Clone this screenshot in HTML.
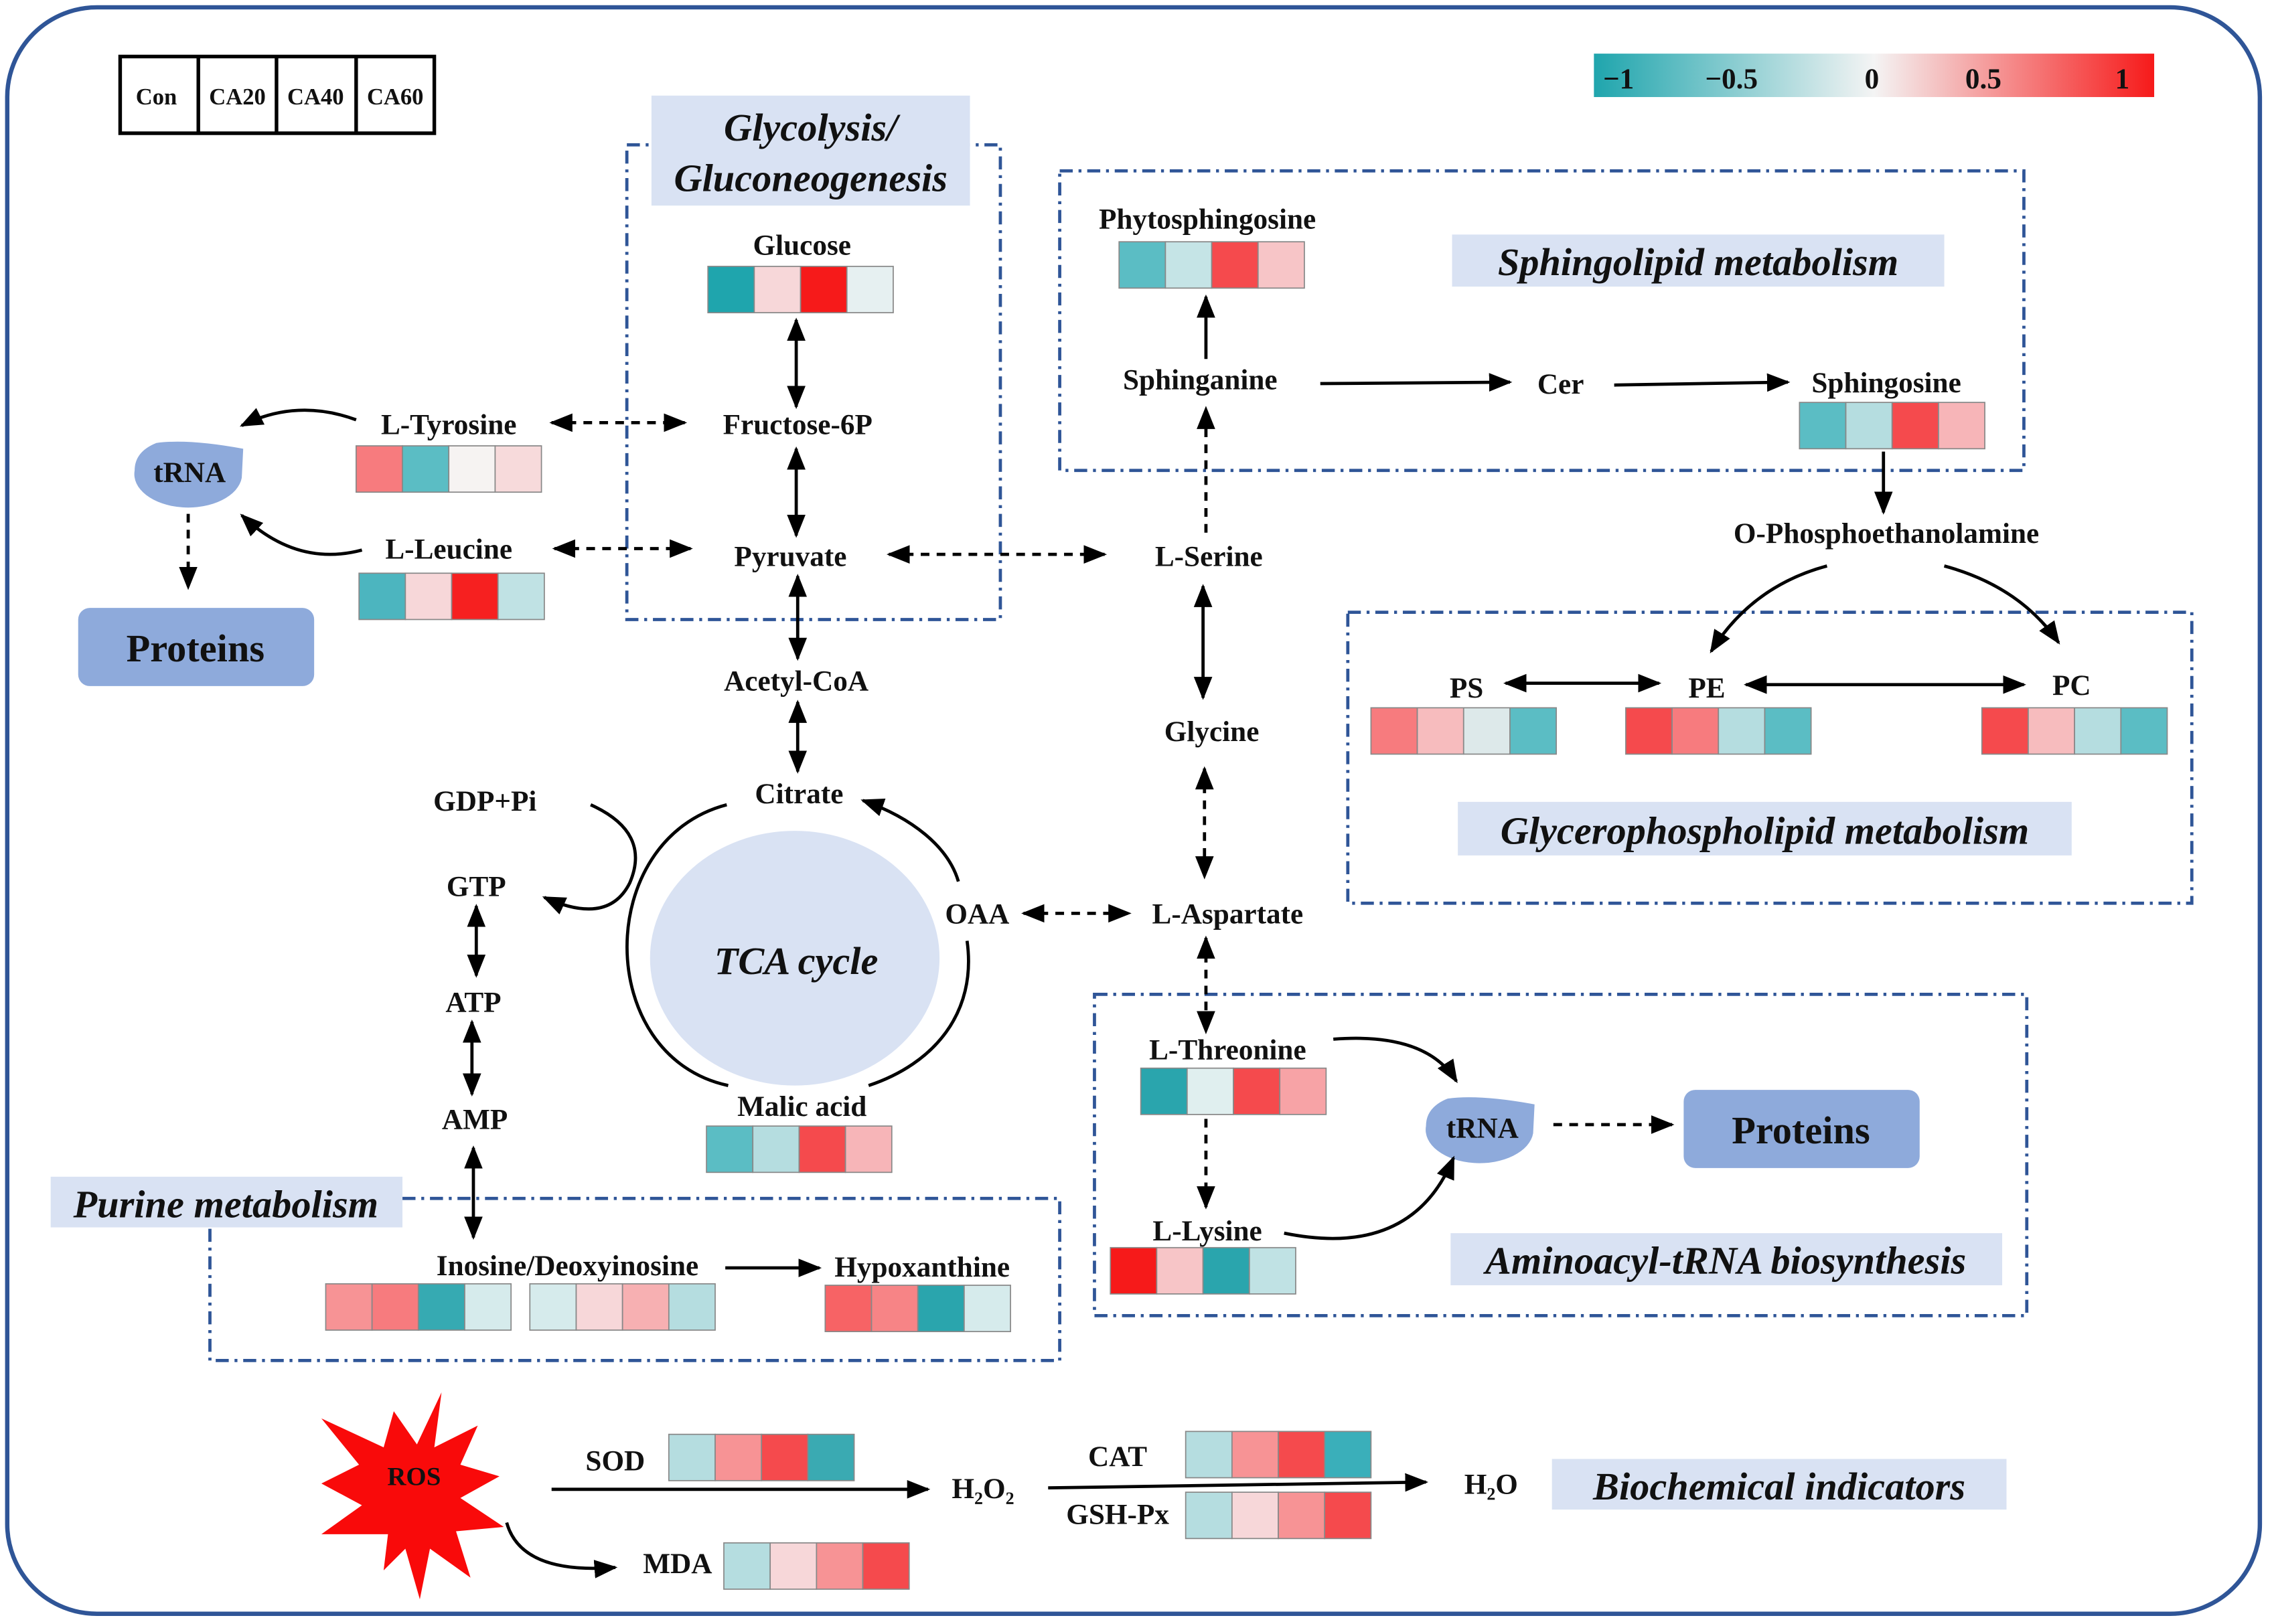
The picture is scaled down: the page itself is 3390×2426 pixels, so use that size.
<!DOCTYPE html>
<html><head><meta charset="utf-8"><style>
html,body{margin:0;padding:0;background:#fff;}
svg{display:block;}
text{font-family:"Liberation Serif",serif;font-weight:bold;fill:#111;}
.t{font-size:20px;text-anchor:middle;}
.it{font-style:italic;font-size:27px;text-anchor:middle;}
.box{fill:none;stroke:#2f5597;stroke-width:2.2;stroke-dasharray:9 4 2 4;}
.lab{fill:#d9e2f3;}
.ln{stroke:#000;stroke-width:2.2;fill:none;}
.d{stroke-dasharray:6 5;}
</style></head><body>
<svg width="3390" height="2426" viewBox="0 0 1568 1122" xmlns="http://www.w3.org/2000/svg">
<defs>
<marker id="b" viewBox="0 0 10 10" refX="9" refY="5" markerWidth="16" markerHeight="16" orient="auto-start-reverse" markerUnits="userSpaceOnUse"><path d="M0,1 L10,5 L0,9 z" fill="#000"/></marker>
<linearGradient id="g" x1="0" x2="1"><stop offset="0" stop-color="#1fa5ad"/><stop offset="0.5" stop-color="#f4f4f4"/><stop offset="1" stop-color="#f61a1a"/></linearGradient>
</defs>
<rect x="5" y="5" width="1556" height="1110" rx="62" fill="#fff" stroke="#2f5597" stroke-width="3"/>

<g stroke="#000" stroke-width="2.5" fill="#fff"><rect x="83" y="39" width="217" height="53"/><line x1="137" y1="39" x2="137" y2="92"/><line x1="191" y1="39" x2="191" y2="92"/><line x1="246" y1="39" x2="246" y2="92"/></g>
<g><text x="108" y="72" text-anchor="middle" style="font-size:16px">Con</text><text x="164" y="72" text-anchor="middle" style="font-size:16px">CA20</text><text x="218" y="72" text-anchor="middle" style="font-size:16px">CA40</text><text x="273" y="72" text-anchor="middle" style="font-size:16px">CA60</text></g>
<rect x="1101" y="37" width="387" height="30" fill="url(#g)"/>
<g><text class="t" x="1118" y="61">−1</text><text class="t" x="1196" y="61">−0.5</text><text class="t" x="1293" y="61">0</text><text class="t" x="1370" y="61">0.5</text><text class="t" x="1466" y="61">1</text></g>

<rect class="box" x="433" y="100" width="258" height="328"/>
<rect class="box" x="732" y="118" width="666" height="207"/>
<rect class="box" x="931" y="423" width="583" height="201"/>
<rect class="box" x="145" y="828" width="587" height="112"/>
<rect class="box" x="756" y="687" width="644" height="222"/>

<rect class="lab" x="450" y="66" width="220" height="76"/>
<text class="it" x="560" y="97">Glycolysis/</text><text class="it" x="560" y="132">Gluconeogenesis</text>
<rect class="lab" x="1003" y="162" width="340" height="36"/><text class="it" x="1173" y="190">Sphingolipid metabolism</text>
<rect class="lab" x="1007" y="554" width="424" height="37"/><text class="it" x="1219" y="583">Glycerophospholipid metabolism</text>
<rect class="lab" x="35" y="813" width="243" height="35"/><text class="it" x="156" y="841">Purine metabolism</text>
<rect class="lab" x="1002" y="852" width="381" height="36"/><text class="it" x="1192" y="880">Aminoacyl-tRNA biosynthesis</text>
<rect class="lab" x="1072" y="1008" width="314" height="35"/><text class="it" x="1229" y="1036">Biochemical indicators</text>

<rect x="54" y="420" width="163" height="54" rx="8" fill="#8eaadb"/><text x="135" y="457" text-anchor="middle" style="font-size:27px">Proteins</text>
<rect x="1163" y="753" width="163" height="54" rx="8" fill="#8eaadb"/><text x="1244" y="790" text-anchor="middle" style="font-size:27px">Proteins</text>
<path d="M93,325 A37,23 0 1 0 167,330 L168,310 Q130,303 108,306 Q93,312 93,325z" fill="#8eaadb"/>
<text class="t" x="131" y="333">tRNA</text>
<path d="M985,778 A37,23 0 1 0 1059,783 L1060,763 Q1022,756 1000,759 Q985,765 985,778z" fill="#8eaadb"/>
<text class="t" x="1024" y="786">tRNA</text>

<ellipse cx="549" cy="662" rx="100" ry="88" fill="#d9e2f3"/>
<text class="it" x="550" y="673">TCA cycle</text>
<path class="ln" d="M502,556 C410,580 410,730 503,750" stroke-width="3"/>
<path class="ln" d="M662,609 C655,585 630,565 596,553" stroke-width="3" marker-end="url(#b)"/>
<path class="ln" d="M668,650 C675,700 645,735 600,750" stroke-width="3"/>
<path class="ln" d="M408,556 Q450,575 435,610 Q420,640 376,620" marker-end="url(#b)"/>

<g>
<text class="t" x="554" y="176">Glucose</text>
<text class="t" x="551" y="300">Fructose-6P</text>
<text class="t" x="546" y="391">Pyruvate</text>
<text class="t" x="550" y="477">Acetyl-CoA</text>
<text class="t" x="552" y="555">Citrate</text>
<text class="t" x="335" y="560">GDP+Pi</text>
<text class="t" x="329" y="619">GTP</text>
<text class="t" x="327" y="699">ATP</text>
<text class="t" x="328" y="780">AMP</text>
<text class="t" x="675" y="638">OAA</text>
<text class="t" x="554" y="771">Malic acid</text>
<text class="t" x="310" y="300">L-Tyrosine</text>
<text class="t" x="310" y="386">L-Leucine</text>
<text class="t" x="834" y="158">Phytosphingosine</text>
<text class="t" x="829" y="269">Sphinganine</text>
<text class="t" x="1078" y="272">Cer</text>
<text class="t" x="1303" y="271">Sphingosine</text>
<text class="t" x="1303" y="375">O-Phosphoethanolamine</text>
<text class="t" x="835" y="391">L-Serine</text>
<text class="t" x="837" y="512">Glycine</text>
<text class="t" x="848" y="638">L-Aspartate</text>
<text class="t" x="1013" y="482">PS</text>
<text class="t" x="1179" y="482">PE</text>
<text class="t" x="1431" y="480">PC</text>
<text class="t" x="848" y="732">L-Threonine</text>
<text class="t" x="834" y="857">L-Lysine</text>
<text class="t" x="392" y="881">Inosine/Deoxyinosine</text>
<text class="t" x="637" y="882">Hypoxanthine</text>
<text class="t" x="425" y="1016">SOD</text>
<text class="t" x="679" y="1035">H₂O₂</text>
<text class="t" x="772" y="1013">CAT</text>
<text class="t" x="772" y="1053">GSH-Px</text>
<text class="t" x="1030" y="1032">H₂O</text>
<text class="t" x="468" y="1087">MDA</text>
</g>

<polygon points="305,962 300,1000 330,985 318,1012 345,1020 318,1035 348,1055 315,1058 325,1090 297,1070 290,1105 280,1070 265,1085 268,1060 222,1060 250,1040 222,1025 248,1012 222,980 265,1000 272,975 288,998" fill="#f90a0a"/>
<text x="286" y="1026" text-anchor="middle" style="font-size:18px">ROS</text>

<g stroke="#888" stroke-width="0.8">
<g transform="translate(489,184)"><rect width="32" height="32" fill="#1fa5ad"/><rect x="32" width="32" height="32" fill="#f7d7d9"/><rect x="64" width="32" height="32" fill="#f61a1a"/><rect x="96" width="32" height="32" fill="#e6f0f1"/></g>
<g transform="translate(246,308)"><rect width="32" height="32" fill="#f77b7e"/><rect x="32" width="32" height="32" fill="#5bbdc4"/><rect x="64" width="32" height="32" fill="#f6f3f2"/><rect x="96" width="32" height="32" fill="#f7dadb"/></g>
<g transform="translate(248,396)"><rect width="32" height="32" fill="#4cb5bf"/><rect x="32" width="32" height="32" fill="#f7d7d9"/><rect x="64" width="32" height="32" fill="#f62020"/><rect x="96" width="32" height="32" fill="#c0e2e4"/></g>
<g transform="translate(773,167)"><rect width="32" height="32" fill="#5bbdc4"/><rect x="32" width="32" height="32" fill="#c5e4e6"/><rect x="64" width="32" height="32" fill="#f54a4d"/><rect x="96" width="32" height="32" fill="#f7c5c7"/></g>
<g transform="translate(1243,278)"><rect width="32" height="32" fill="#5bbdc4"/><rect x="32" width="32" height="32" fill="#b5dde0"/><rect x="64" width="32" height="32" fill="#f54a4d"/><rect x="96" width="32" height="32" fill="#f7b5b8"/></g>
<g transform="translate(947,489)"><rect width="32" height="32" fill="#f77b7e"/><rect x="32" width="32" height="32" fill="#f7bcbe"/><rect x="64" width="32" height="32" fill="#dde9ea"/><rect x="96" width="32" height="32" fill="#5bbdc4"/></g>
<g transform="translate(1123,489)"><rect width="32" height="32" fill="#f54a4d"/><rect x="32" width="32" height="32" fill="#f77b7e"/><rect x="64" width="32" height="32" fill="#b5dde0"/><rect x="96" width="32" height="32" fill="#5bbdc4"/></g>
<g transform="translate(1369,489)"><rect width="32" height="32" fill="#f54a4d"/><rect x="32" width="32" height="32" fill="#f7bcbe"/><rect x="64" width="32" height="32" fill="#b5dde0"/><rect x="96" width="32" height="32" fill="#5bbdc4"/></g>
<g transform="translate(488,778)"><rect width="32" height="32" fill="#5bbdc4"/><rect x="32" width="32" height="32" fill="#b5dde0"/><rect x="64" width="32" height="32" fill="#f54a4d"/><rect x="96" width="32" height="32" fill="#f7b5b8"/></g>
<g transform="translate(788,738)"><rect width="32" height="32" fill="#2aa5ad"/><rect x="32" width="32" height="32" fill="#e0efef"/><rect x="64" width="32" height="32" fill="#f54a4d"/><rect x="96" width="32" height="32" fill="#f7a3a6"/></g>
<g transform="translate(767,862)"><rect width="32" height="32" fill="#f61a1a"/><rect x="32" width="32" height="32" fill="#f7c5c7"/><rect x="64" width="32" height="32" fill="#2aa5ad"/><rect x="96" width="32" height="32" fill="#c0e2e4"/></g>
<g transform="translate(225,887)"><rect width="32" height="32" fill="#f79395"/><rect x="32" width="32" height="32" fill="#f77b7e"/><rect x="64" width="32" height="32" fill="#36aab2"/><rect x="96" width="32" height="32" fill="#d6ebec"/></g>
<g transform="translate(366,887)"><rect width="32" height="32" fill="#d6ebec"/><rect x="32" width="32" height="32" fill="#f7d7d9"/><rect x="64" width="32" height="32" fill="#f7b0b2"/><rect x="96" width="32" height="32" fill="#b5dde0"/></g>
<g transform="translate(570,888)"><rect width="32" height="32" fill="#f76365"/><rect x="32" width="32" height="32" fill="#f78486"/><rect x="64" width="32" height="32" fill="#2aa5ad"/><rect x="96" width="32" height="32" fill="#d6ebec"/></g>
<g transform="translate(462,991)"><rect width="32" height="32" fill="#b5dde0"/><rect x="32" width="32" height="32" fill="#f79395"/><rect x="64" width="32" height="32" fill="#f54a4d"/><rect x="96" width="32" height="32" fill="#3aaab2"/></g>
<g transform="translate(819,989)"><rect width="32" height="32" fill="#b5dde0"/><rect x="32" width="32" height="32" fill="#f79395"/><rect x="64" width="32" height="32" fill="#f54a4d"/><rect x="96" width="32" height="32" fill="#3aafba"/></g>
<g transform="translate(819,1031)"><rect width="32" height="32" fill="#b5dde0"/><rect x="32" width="32" height="32" fill="#f7d7d9"/><rect x="64" width="32" height="32" fill="#f79395"/><rect x="96" width="32" height="32" fill="#f54a4d"/></g>
<g transform="translate(500,1066)"><rect width="32" height="32" fill="#b5dde0"/><rect x="32" width="32" height="32" fill="#f7d7d9"/><rect x="64" width="32" height="32" fill="#f79395"/><rect x="96" width="32" height="32" fill="#f54a4d"/></g>
</g>

<g class="ln" marker-end="url(#b)">
<line x1="550" y1="221" x2="550" y2="281" marker-start="url(#b)"/>
<line x1="550" y1="310" x2="550" y2="370" marker-start="url(#b)"/>
<line x1="551" y1="398" x2="551" y2="455" marker-start="url(#b)"/>
<line x1="551" y1="485" x2="551" y2="533" marker-start="url(#b)"/>
<line x1="329" y1="626" x2="329" y2="674" marker-start="url(#b)"/>
<line x1="326" y1="706" x2="326" y2="756" marker-start="url(#b)"/>
<line x1="327" y1="793" x2="327" y2="855" marker-start="url(#b)"/>
<line x1="831" y1="405" x2="831" y2="482" marker-start="url(#b)"/>
<line x1="833" y1="248" x2="833" y2="205"/>
<line x1="912" y1="265" x2="1043" y2="264"/>
<line x1="1115" y1="266" x2="1235" y2="264"/>
<line x1="1301" y1="312" x2="1301" y2="354"/>
<line x1="1040" y1="472" x2="1146" y2="472" marker-start="url(#b)"/>
<line x1="1206" y1="473" x2="1398" y2="473" marker-start="url(#b)"/>
<path d="M1262,391 Q1210,405 1182,450"/>
<path d="M1343,391 Q1395,405 1422,444"/>
<line x1="501" y1="876" x2="566" y2="876"/>
<line x1="381" y1="1029" x2="641" y2="1029"/>
<line x1="724" y1="1028" x2="985" y2="1024"/>
<path d="M350,1052 Q360,1088 425,1083"/>
<path d="M246,290 Q205,275 167,294"/>
<path d="M250,380 Q205,392 167,356"/>
<path d="M921,718 Q985,713 1006,747"/>
<path d="M887,852 Q975,870 1004,800"/>
</g>
<g class="ln d" marker-end="url(#b)">
<line x1="381" y1="292" x2="473" y2="292" marker-start="url(#b)"/>
<line x1="383" y1="379" x2="477" y2="379" marker-start="url(#b)"/>
<line x1="614" y1="383" x2="763" y2="383" marker-start="url(#b)"/>
<line x1="833" y1="368" x2="833" y2="282"/>
<line x1="832" y1="531" x2="832" y2="606" marker-start="url(#b)"/>
<line x1="707" y1="631" x2="780" y2="631" marker-start="url(#b)"/>
<line x1="833" y1="648" x2="833" y2="713" marker-start="url(#b)"/>
<line x1="833" y1="773" x2="833" y2="834"/>
<line x1="130" y1="355" x2="130" y2="406"/>
<line x1="1073" y1="777" x2="1155" y2="777"/>
</g>
</svg>
</body></html>
